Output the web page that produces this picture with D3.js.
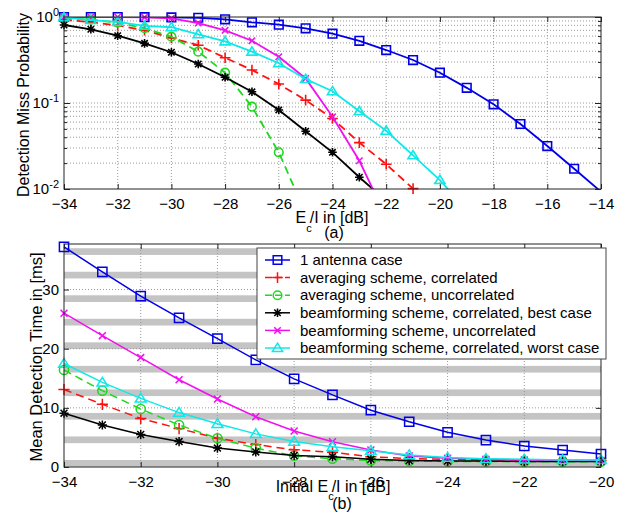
<!DOCTYPE html>
<html>
<head>
<meta charset="utf-8">
<script src="https://cdn.jsdelivr.net/npm/d3@7"></script>
<style>
body { margin: 0; background: #fff; }
svg { font-family: Arial, "Liberation Sans", sans-serif; }
</style>
</head>
<body>
<div id="chart"></div>
<script>
const width = 623;
const height = 515;

// ---- data ----
const ecioTop = [-34, -33, -32, -31, -30, -29, -28, -27, -26, -25, -24, -23, -22, -21, -20, -19, -18, -17, -16, -15, -14];
const ecioBottom = [-34, -33, -32, -31, -30, -29, -28, -27, -26, -25, -24, -23, -22, -21, -20];

const seriesNames = [
    "1 antenna case",
    "averaging scheme, correlated",
    "averaging scheme, uncorrelated",
    "beamforming scheme, correlated, best case",
    "beamforming scheme, uncorrelated",
    "beamforming scheme, correlated, worst case"
];

// detection miss probability (a) - values below 1e-2 only carry the line to the axis edge
const missOneAntenna = [1.0, 1.0, 1.0, 0.995, 0.99, 0.98, 0.94, 0.868, 0.815, 0.738, 0.64, 0.528, 0.413, 0.316, 0.225, 0.150, 0.0966, 0.057, 0.0316, 0.0172, 0.0093];
const missAvgCorr = [0.93, 0.87, 0.8, 0.7, 0.57, 0.47, 0.336, 0.242, 0.166, 0.108, 0.066, 0.0346, 0.0194, 0.0101];
const missAvgUncorr = [0.97, 0.93, 0.86, 0.74, 0.59, 0.395, 0.225, 0.0906, 0.0267, 0.0052];
const missBfBest = [0.807, 0.72, 0.606, 0.494, 0.389, 0.284, 0.199, 0.135, 0.083, 0.047, 0.0267, 0.0137, 0.0073];
const missBfUncorr = [1.0, 1.0, 1.0, 0.99, 0.965, 0.85, 0.7, 0.53, 0.345, 0.193, 0.069, 0.0213, 0.0047];
const missBfWorst = [0.99, 0.92, 0.88, 0.79, 0.76, 0.63, 0.52, 0.395, 0.29, 0.19, 0.137, 0.08, 0.0475, 0.0246, 0.0127, 0.0057];

// mean detection time in ms (b)
const timeOneAntenna = [37.2, 33.0, 28.9, 25.2, 21.7, 18.1, 14.9, 12.2, 9.6, 7.65, 5.86, 4.56, 3.55, 2.87, 2.2];
const timeAvgCorr = [13.1, 10.6, 8.2, 6.5, 4.85, 3.8, 2.9, 2.5, 1.75, 1.4, 1.3, 1.2, 1.15, 1.1, 1.1];
const timeAvgUncorr = [16.4, 12.9, 9.8, 7.1, 4.85, 3.2, 1.9, 1.4, 1.1, 1.0, 0.95, 0.92, 0.9, 0.9, 0.9];
const timeBfBest = [9.1, 7.1, 5.5, 4.3, 3.2, 2.55, 1.95, 1.75, 1.3, 1.1, 1.0, 1.0, 0.95, 0.95, 0.95];
const timeBfUncorr = [26.0, 22.2, 18.5, 14.75, 11.5, 8.5, 6.08, 4.27, 2.87, 1.86, 1.47, 1.3, 1.2, 1.15, 1.1];
const timeBfWorst = [17.5, 14.3, 11.6, 9.2, 7.3, 5.6, 4.3, 3.43, 2.75, 2.03, 1.6, 1.4, 1.3, 1.2, 1.2];

const yTicksTime = [0, 10, 20, 30];

// ---- styles ----
const colors = ["#0000e6", "#ff1010", "#1ed81e", "#000000", "#f010f0", "#10e8e8"];
const dashes = [null, "8,5", "8,5", null, null, null];
const markers = ["square", "plus", "circle", "star", "x", "triangle"];

function markerPath(type, r) {
    const k = r * 0.75;
    switch (type) {
        case "square": return `M${-r},${-r}H${r}V${r}H${-r}Z`;
        case "plus": return `M${-r - 1},0H${r + 1}M0,${-r - 1}V${r + 1}`;
        case "circle": return `M${r},0A${r},${r} 0 1,1 ${-r},0A${r},${r} 0 1,1 ${r},0`;
        case "x": return `M${-k},${-k}L${k},${k}M${-k},${k}L${k},${-k}`;
        case "star": return `M${-r},0H${r}M0,${-r}V${r}M${-k},${-k}L${k},${k}M${-k},${k}L${k},${-k}`;
        case "triangle": return `M0,${-r - 0.5}L${r + 0.8},${r * 0.8}L${-r - 0.8},${r * 0.8}Z`;
    }
}

const svg = d3.select("#chart").append("svg").attr("width", width).attr("height", height);

// =============== (a) detection miss probability ===============
const topPlot = { left: 64, right: 601, top: 17, bottom: 189 };
const xTop = d3.scaleLinear().domain([-34, -14]).range([topPlot.left, topPlot.right]);
const yTop = d3.scaleLog().domain([0.01, 1]).range([topPlot.bottom, topPlot.top]);

svg.append("clipPath").attr("id", "clipTop").append("rect")
    .attr("x", topPlot.left).attr("y", topPlot.top)
    .attr("width", topPlot.right - topPlot.left).attr("height", topPlot.bottom - topPlot.top);

const gTop = svg.append("g");

// grid
const xTicksTop = xTop.ticks(10);
gTop.selectAll("line.vgrid")
    .data(xTicksTop.slice(1, -1))
    .join("line")
    .attr("x1", d => xTop(d)).attr("x2", d => xTop(d))
    .attr("y1", topPlot.top).attr("y2", topPlot.bottom)
    .attr("stroke", "#9a9a9a").attr("stroke-dasharray", "1,2");
gTop.selectAll("line.hgrid")
    .data(yTop.ticks().filter(d => d > 0.01 && d < 1))
    .join("line")
    .attr("x1", topPlot.left).attr("x2", topPlot.right)
    .attr("y1", d => yTop(d)).attr("y2", d => yTop(d))
    .attr("stroke", "#9a9a9a").attr("stroke-dasharray", "1,2");

// axes (ticks inside, box on)
gTop.append("g").attr("transform", `translate(0,${topPlot.bottom})`)
    .call(d3.axisBottom(xTop).tickValues(xTicksTop).tickSize(-5).tickPadding(9).tickFormat(d3.format("d")));
gTop.append("g").attr("transform", `translate(0,${topPlot.top})`)
    .call(d3.axisTop(xTop).tickValues(xTicksTop).tickSize(-5).tickFormat(""));
gTop.append("g").attr("transform", `translate(${topPlot.left},0)`)
    .call(d3.axisLeft(yTop).tickValues(yTop.ticks()).tickSize(-3).tickFormat(""));
gTop.append("g").attr("transform", `translate(${topPlot.right},0)`)
    .call(d3.axisRight(yTop).tickValues(yTop.ticks()).tickSize(-3).tickFormat(""));
const axTopL = gTop.append("g").attr("transform", `translate(${topPlot.left},0)`)
    .call(d3.axisLeft(yTop).tickValues([0.01, 0.1, 1]).tickSize(-6).tickPadding(5).tickFormat(""));
gTop.append("g").attr("transform", `translate(${topPlot.right},0)`)
    .call(d3.axisRight(yTop).tickValues([0.01, 0.1, 1]).tickSize(-6).tickFormat(""));

axTopL.selectAll(".tick text").each(function (d) {
    const t = d3.select(this);
    t.append("tspan").text("10");
    t.append("tspan").attr("dy", "-0.55em").attr("font-size", "11px").text(Math.round(Math.log10(d)));
});

const topSeries = [missOneAntenna, missAvgCorr, missAvgUncorr, missBfBest, missBfUncorr, missBfWorst];
const topLine = d3.line().x((d, i) => xTop(ecioTop[i])).y(d => yTop(d));

topSeries.forEach((values, s) => {
    gTop.append("path")
        .attr("clip-path", "url(#clipTop)")
        .attr("d", topLine(values))
        .attr("fill", "none")
        .attr("stroke", colors[s])
        .attr("stroke-width", 1.8)
        .attr("stroke-dasharray", dashes[s]);
    gTop.selectAll(null)
        .data(values.map((v, i) => ({ x: ecioTop[i], v })).filter(d => d.v >= 0.0099))
        .join("path")
        .attr("transform", d => `translate(${xTop(d.x)},${yTop(d.v)})`)
        .attr("d", markerPath(markers[s], 4.3))
        .attr("fill", "none")
        .attr("stroke", colors[s])
        .attr("stroke-width", 1.6);
});

gTop.append("rect")
    .attr("x", topPlot.left).attr("y", topPlot.top)
    .attr("width", topPlot.right - topPlot.left).attr("height", topPlot.bottom - topPlot.top)
    .attr("fill", "none").attr("stroke", "#222");

// labels
svg.append("text")
    .attr("transform", "translate(29,105) rotate(-90)")
    .attr("text-anchor", "middle")
    .style("font-size", "16px")
    .text("Detection Miss Probability");

const xlabA = svg.append("text").attr("x", 332).attr("y", 223)
    .attr("text-anchor", "middle").style("font-size", "16px");
xlabA.append("tspan").text("E");
xlabA.append("tspan").attr("dy", 9).style("font-size", "11px").text("c");
xlabA.append("tspan").attr("dy", -9).attr("dx", -2).text("/I in [dB]");
svg.append("text").attr("x", 334).attr("y", 238).attr("text-anchor", "middle")
    .style("font-size", "16px").text("(a)");

// =============== (b) mean detection time ===============
const botPlot = { left: 64, right: 601, top: 244, bottom: 467 };
const xBot = d3.scaleLinear().domain([-34, -20]).range([botPlot.left, botPlot.right]);
const yBot = d3.scaleLinear().domain([0, 37.7]).range([botPlot.bottom, botPlot.top]);

const gBot = svg.append("g");

// grey scan bands behind the plot
const bandStep = 23.53;
gBot.selectAll("rect.band")
    .data(d3.range(10))
    .join("rect")
    .attr("x", botPlot.left)
    .attr("y", k => botPlot.bottom - 7 - bandStep * k)
    .attr("width", botPlot.right - botPlot.left)
    .attr("height", 6.7)
    .attr("fill", "#c4c4c4");

const xTicksBot = xBot.ticks(7);
gBot.selectAll("line.vgrid")
    .data(xTicksBot.slice(1, -1))
    .join("line")
    .attr("x1", d => xBot(d)).attr("x2", d => xBot(d))
    .attr("y1", botPlot.top).attr("y2", botPlot.bottom)
    .attr("stroke", "#9a9a9a").attr("stroke-dasharray", "1,2");
gBot.selectAll("line.hgrid")
    .data(yTicksTime.slice(1))
    .join("line")
    .attr("x1", botPlot.left).attr("x2", botPlot.right)
    .attr("y1", d => yBot(d)).attr("y2", d => yBot(d))
    .attr("stroke", "#9a9a9a").attr("stroke-dasharray", "1,2");

gBot.append("g").attr("transform", `translate(0,${botPlot.bottom})`)
    .call(d3.axisBottom(xBot).tickValues(xTicksBot).tickSize(-5).tickPadding(9).tickFormat(d3.format("d")));
gBot.append("g").attr("transform", `translate(0,${botPlot.top})`)
    .call(d3.axisTop(xBot).tickValues(xTicksBot).tickSize(-5).tickFormat(""));
gBot.append("g").attr("transform", `translate(${botPlot.left},0)`)
    .call(d3.axisLeft(yBot).tickValues(yTicksTime).tickSize(-5).tickPadding(5).tickFormat(d3.format("d")));
gBot.append("g").attr("transform", `translate(${botPlot.right},0)`)
    .call(d3.axisRight(yBot).tickValues(yTicksTime).tickSize(-5).tickFormat(""));

const botSeries = [timeOneAntenna, timeAvgCorr, timeAvgUncorr, timeBfBest, timeBfUncorr, timeBfWorst];
const botLine = d3.line().x((d, i) => xBot(ecioBottom[i])).y(d => yBot(d));

botSeries.forEach((values, s) => {
    gBot.append("path")
        .attr("d", botLine(values))
        .attr("fill", "none")
        .attr("stroke", colors[s])
        .attr("stroke-width", 1.5)
        .attr("stroke-dasharray", dashes[s]);
    gBot.selectAll(null)
        .data(values)
        .join("path")
        .attr("transform", (d, i) => `translate(${xBot(ecioBottom[i])},${yBot(d)})`)
        .attr("d", markerPath(markers[s], 4.6))
        .attr("fill", "none")
        .attr("stroke", colors[s])
        .attr("stroke-width", 1.5);
});

gBot.append("rect")
    .attr("x", botPlot.left).attr("y", botPlot.top)
    .attr("width", botPlot.right - botPlot.left).attr("height", botPlot.bottom - botPlot.top)
    .attr("fill", "none").attr("stroke", "#222");

svg.append("text")
    .attr("transform", "translate(42,357) rotate(-90)")
    .attr("text-anchor", "middle")
    .style("font-size", "16.5px")
    .text("Mean Detection Time in [ms]");

// the reference draws this label over the tick numbers
const xlabB = svg.append("text").attr("x", 333).attr("y", 492)
    .attr("text-anchor", "middle").style("font-size", "16px");
xlabB.append("tspan").text("Initial E");
xlabB.append("tspan").attr("dy", 8).style("font-size", "11px").text("c");
xlabB.append("tspan").attr("dy", -8).attr("dx", -2).text("/I in [dB]");
svg.append("text").attr("x", 342).attr("y", 509).attr("text-anchor", "middle")
    .style("font-size", "16px").text("(b)");

// legend
const legend = svg.append("g");
legend.append("rect")
    .attr("x", 257).attr("y", 248).attr("width", 349).attr("height", 111)
    .attr("fill", "#fff").attr("stroke", "#444");
const rows = legend.selectAll("g.row")
    .data(seriesNames)
    .join("g")
    .attr("transform", (d, i) => `translate(0,${260 + i * 17.6})`);
rows.append("line")
    .attr("x1", 265).attr("x2", 290)
    .attr("stroke", (d, i) => colors[i])
    .attr("stroke-width", 1.5)
    .attr("stroke-dasharray", (d, i) => dashes[i] ? "7,3" : null);
rows.append("path")
    .attr("transform", "translate(277.5,0)")
    .attr("d", (d, i) => markerPath(markers[i], 4.3))
    .attr("fill", "none")
    .attr("stroke", (d, i) => colors[i])
    .attr("stroke-width", 1.5);
rows.append("text")
    .attr("x", 300).attr("dy", "0.35em")
    .style("font-size", "15px")
    .text(d => d);

svg.selectAll(".tick text").style("font-size", "15px").attr("fill", "#000");
svg.selectAll(".domain").remove();
svg.selectAll(".tick line").attr("stroke", "#222");
</script>
</body>
</html>
